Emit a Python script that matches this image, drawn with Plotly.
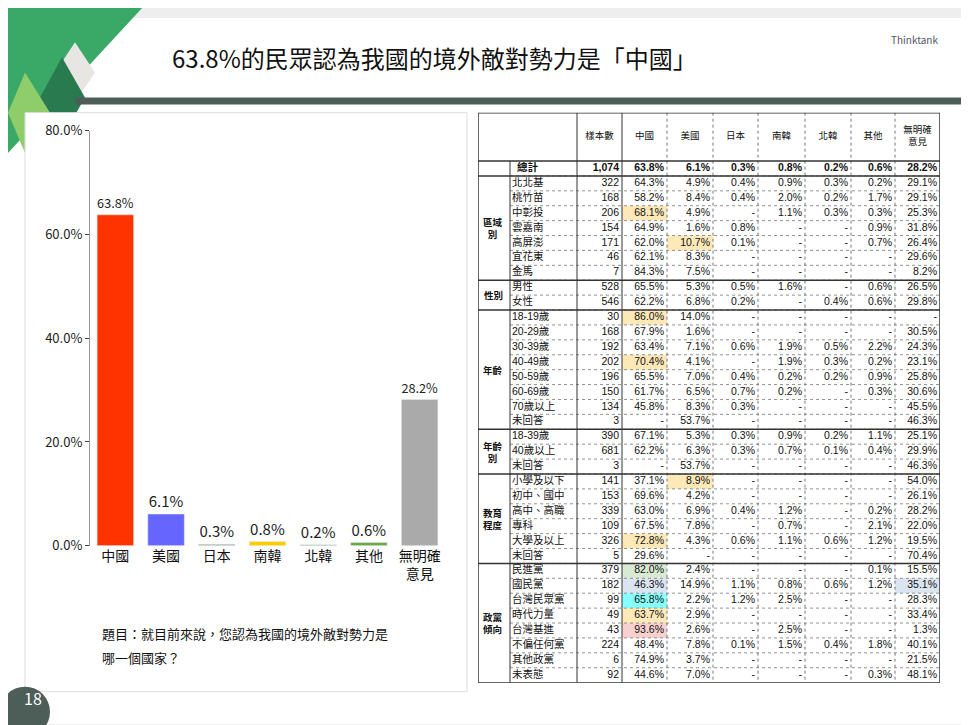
import plotly.graph_objects as go

W, H = 969, 725
categories = ["中國", "美國", "日本", "南韓", "北韓", "其他", "無明確<br>意見"]
values = [63.8, 6.1, 0.3, 0.8, 0.2, 0.6, 28.2]
bar_colors = ["#ff3300", "#6666ff", "#99aa99", "#ffcc00", "#99aa99", "#66aa44", "#aaaaaa"]
y_ticks = [0, 20, 40, 60, 80]
y_tick_labels = ["0.0%", "20.0%", "40.0%", "60.0%", "80.0%"]

header = ["樣本數", "中國", "美國", "日本", "南韓", "北韓", "其他", "無明確<br>意見"]
row_labels = ["總計", "北北基", "桃竹苗", "中彰投", "雲嘉南", "高屏澎", "宜花東", "金馬", "男性", "女性",
              "18-19歲", "20-29歲", "30-39歲", "40-49歲", "50-59歲", "60-69歲", "70歲以上", "未回答",
              "18-39歲", "40歲以上", "未回答",
              "小學及以下", "初中、國中", "高中、高職", "專科", "大學及以上", "未回答",
              "民進黨", "國民黨", "台灣民眾黨", "時代力量", "台灣基進", "不偏任何黨", "其他政黨", "未表態"]
sample_n = ["1,074", "322", "168", "206", "154", "171", "46", "7", "528", "546",
            "30", "168", "192", "202", "196", "150", "134", "3", "390", "681", "3",
            "141", "153", "339", "109", "326", "5", "379", "182", "99", "49", "43", "224", "6", "92"]
col_china = ["63.8%", "64.3%", "58.2%", "68.1%", "64.9%", "62.0%", "62.1%", "84.3%", "65.5%", "62.2%",
             "86.0%", "67.9%", "63.4%", "70.4%", "65.5%", "61.7%", "45.8%", "-", "67.1%", "62.2%", "-",
             "37.1%", "69.6%", "63.0%", "67.5%", "72.8%", "29.6%", "82.0%", "46.3%", "65.8%", "63.7%", "93.6%", "48.4%", "74.9%", "44.6%"]
col_usa = ["6.1%", "4.9%", "8.4%", "4.9%", "1.6%", "10.7%", "8.3%", "7.5%", "5.3%", "6.8%",
           "14.0%", "1.6%", "7.1%", "4.1%", "7.0%", "6.5%", "8.3%", "53.7%", "5.3%", "6.3%", "53.7%",
           "8.9%", "4.2%", "6.9%", "7.8%", "4.3%", "-", "2.4%", "14.9%", "2.2%", "2.9%", "2.6%", "7.8%", "3.7%", "7.0%"]
col_japan = ["0.3%", "0.4%", "0.4%", "-", "0.8%", "0.1%", "-", "-", "0.5%", "0.2%",
             "-", "-", "0.6%", "-", "0.4%", "0.7%", "0.3%", "-", "0.3%", "0.3%", "-",
             "-", "-", "0.4%", "-", "0.6%", "-", "-", "1.1%", "1.2%", "-", "-", "0.1%", "-", "-"]
col_skorea = ["0.8%", "0.9%", "2.0%", "1.1%", "-", "-", "-", "-", "1.6%", "-",
              "-", "-", "1.9%", "1.9%", "0.2%", "0.2%", "-", "-", "0.9%", "0.7%", "-",
              "-", "-", "1.2%", "0.7%", "1.1%", "-", "-", "0.8%", "2.5%", "-", "2.5%", "1.5%", "-", "-"]
col_nkorea = ["0.2%", "0.3%", "0.2%", "0.3%", "-", "-", "-", "-", "-", "0.4%",
              "-", "-", "0.5%", "0.3%", "0.2%", "-", "-", "-", "0.2%", "0.1%", "-",
              "-", "-", "-", "-", "0.6%", "-", "-", "0.6%", "-", "-", "-", "0.4%", "-", "-"]
col_other = ["0.6%", "0.2%", "1.7%", "0.3%", "0.9%", "0.7%", "-", "-", "0.6%", "0.6%",
             "-", "-", "2.2%", "0.2%", "0.9%", "0.3%", "-", "-", "1.1%", "0.4%", "-",
             "-", "-", "0.2%", "2.1%", "1.2%", "-", "0.1%", "1.2%", "-", "-", "-", "1.8%", "-", "0.3%"]
col_none = ["28.2%", "29.1%", "29.1%", "25.3%", "31.8%", "26.4%", "29.6%", "8.2%", "26.5%", "29.8%",
            "-", "30.5%", "24.3%", "23.1%", "25.8%", "30.6%", "45.5%", "46.3%", "25.1%", "29.9%", "46.3%",
            "54.0%", "26.1%", "28.2%", "22.0%", "19.5%", "70.4%", "15.5%", "35.1%", "28.3%", "33.4%", "1.3%", "40.1%", "21.5%", "48.1%"]
groups = [("", 1), ("區域<br>別", 7), ("性別", 2), ("年齡", 8), ("年齡<br>別", 3), ("教育<br>程度", 6), ("政黨<br>傾向", 8)]
highlights = {(3, 1): "#fde9b8", (5, 2): "#fde9b8", (10, 1): "#fde9b8", (13, 1): "#fde9b8",
              (21, 2): "#fde9b8", (25, 1): "#fde9b8", (27, 1): "#d9ead3", (28, 1): "#dbe5f1",
              (28, 7): "#dbe5f1", (29, 1): "#88ffff", (30, 1): "#fde9b8", (31, 1): "#f9d0d0"}
question_lines = ["題目：就目前來說，您認為我國的境外敵對勢力是", "哪一個國家？"]

SY = 0.967
def X(x):
    return (x - 8) / W
def Y(y):
    return 1 - ((y - 21) / SY) / H

col_w = [32, 67, 45, 45, 46, 45, 47, 46, 44, 45]
edges = [0]
for w in col_w:
    edges.append(edges[-1] + w)
HDR, RH = 48, 14.8
nrows = len(row_labels)
T_H = HDR + nrows * RH
TX0, TY0 = 478, 115
TX1, TY1 = TX0 + edges[-1], TY0 + T_H
def ry(i):
    return HDR + (i + 0.5) * RH

fig = go.Figure()
fig.add_trace(go.Bar(x=categories, y=values, marker_color=bar_colors, width=0.72,
                     text=["%.1f%%" % v for v in values], textposition="outside",
                     textfont=dict(size=15, color="#222"), cliponaxis=False, xaxis="x", yaxis="y"))

shapes = [
    dict(type="rect", xref="paper", yref="paper", x0=0, x1=1, y0=0, y1=1, fillcolor="white", line_width=0, layer="below"),
    dict(type="path", xref="paper", yref="paper", path="M %f %f L %f %f L %f %f Z" % (X(8), Y(8), X(145), Y(8), X(8), Y(155)),
         fillcolor="#3aa866", line_width=0, layer="below"),
    dict(type="path", xref="paper", yref="paper",
         path="M %f %f L %f %f L %f %f L %f %f Z" % (X(75), Y(45), X(95), Y(75), X(75), Y(105), X(55), Y(75)),
         fillcolor="#e8e6e2", line_width=0, layer="below"),
    dict(type="path", xref="paper", yref="paper",
         path="M %f %f L %f %f L %f %f L %f %f Z" % (X(62), Y(60), X(85), Y(100), X(62), Y(140), X(40), Y(100)),
         fillcolor="#2a7a4f", line_width=0, layer="below"),
    dict(type="path", xref="paper", yref="paper",
         path="M %f %f L %f %f L %f %f L %f %f Z" % (X(25), Y(75), X(50), Y(115), X(25), Y(155), X(8), Y(115)),
         fillcolor="#8fcc6a", line_width=0, layer="below"),
    dict(type="rect", xref="paper", yref="paper", x0=X(25), x1=X(467), y0=Y(690), y1=Y(115),
         fillcolor="white", line=dict(color="#dddddd", width=1), layer="below"),
    dict(type="rect", xref="paper", yref="paper", x0=X(75), x1=1, y0=Y(107), y1=Y(100),
         fillcolor="#4d5d58", line_width=0, layer="below"),
    dict(type="circle", xref="paper", yref="paper", x0=X(0), x1=X(50), y0=Y(735), y1=Y(685),
         fillcolor="#4d5d58", line_width=0),
]
for (r, c), col in highlights.items():
    shapes.append(dict(type="rect", xref="x2", yref="y2", x0=edges[c + 2], x1=edges[c + 3],
                       y0=HDR + r * RH, y1=HDR + (r + 1) * RH, fillcolor=col, line_width=0, layer="below"))
for i in range(1, nrows):
    shapes.append(dict(type="line", xref="x2", yref="y2", x0=edges[1], x1=edges[-1], y0=HDR + i * RH, y1=HDR + i * RH,
                       line=dict(color="#777", width=0.8, dash="dot")))
for k, e in enumerate(edges):
    outer = k in (0, len(edges) - 1)
    solid = outer or k in (1, 2, 3)
    shapes.append(dict(type="line", xref="x2", yref="y2", x0=e, x1=e, y0=HDR if k == 1 else 0, y1=T_H,
                       line=dict(color="#333" if solid else "#777", width=1.5 if outer else 1,
                                 dash="solid" if solid else "dot")))
shapes.append(dict(type="line", xref="x2", yref="y2", x0=0, x1=edges[-1], y0=0, y1=0, line=dict(color="#333", width=1.5)))
shapes.append(dict(type="line", xref="x2", yref="y2", x0=0, x1=edges[-1], y0=HDR, y1=HDR, line=dict(color="#333", width=1.5)))

annotations = [
    dict(text="63.8%的民眾認為我國的境外敵對勢力是「中國」", x=X(170), y=Y(60), xref="paper", yref="paper",
         xanchor="left", yanchor="middle", showarrow=False, font=dict(size=24, color="#111", family="Noto Sans CJK TC")),
    dict(text="Thinktank", x=X(940), y=Y(33), xref="paper", yref="paper", showarrow=False,
         font=dict(size=10, color="#556")),
    dict(text="18", x=X(22), y=Y(710), xref="paper", yref="paper", showarrow=False,
         font=dict(size=16, color="white")),
]
for j, line in enumerate(question_lines):
    annotations.append(dict(text=line, x=X(100), y=Y(632 + 24 * j), xref="paper", yref="paper", xanchor="left",
                            yanchor="middle", showarrow=False, font=dict(size=13, color="#111", family="Noto Sans CJK TC")))
r0 = 0
for name, n in groups:
    yb = HDR + (r0 + n) * RH
    if name:
        annotations.append(dict(text="<b>%s</b>" % name, x=edges[0] + 15, y=HDR + (r0 + n / 2) * RH, xref="x2", yref="y2",
                                showarrow=False, font=dict(size=9.5, color="#111", family="Noto Sans CJK TC")))
    shapes.append(dict(type="line", xref="x2", yref="y2", x0=edges[0], x1=edges[-1], y0=yb, y1=yb,
                       line=dict(color="#333", width=1.5)))
    r0 += n

ys = [ry(i) for i in range(nrows)]
tfont = dict(size=10.5, color="#111", family="Arial, Noto Sans CJK TC")
fig.add_trace(go.Scatter(x=[(edges[k + 2] + edges[k + 3]) / 2 for k in range(len(header))], y=[HDR / 2] * len(header),
                         mode="text", text=header, textposition="middle center",
                         textfont=dict(size=9.5, color="#111", family="Noto Sans CJK TC"), xaxis="x2", yaxis="y2"))
fig.add_trace(go.Scatter(x=[edges[1] + 2] * (nrows - 1), y=ys[1:], mode="text", text=row_labels[1:],
                         textposition="middle right", textfont=tfont, xaxis="x2", yaxis="y2"))
fig.add_trace(go.Scatter(x=[(edges[0] + edges[2]) / 2], y=ys[:1], mode="text", text=["<b>%s</b>" % row_labels[0]],
                         textposition="middle center", textfont=tfont, xaxis="x2", yaxis="y2"))
for k, col in enumerate([sample_n, col_china, col_usa, col_japan, col_skorea, col_nkorea, col_other, col_none]):
    txt = ["<b>%s</b>" % v if i == 0 else v for i, v in enumerate(col)]
    fig.add_trace(go.Scatter(x=[edges[k + 3] - 3] * nrows, y=ys, mode="text", text=txt, textposition="middle left",
                             textfont=tfont, xaxis="x2", yaxis="y2"))

fig.update_layout(
    width=W, height=H, margin=dict(l=0, r=0, t=0, b=0), paper_bgcolor="#eeeeee", plot_bgcolor="rgba(0,0,0,0)",
    showlegend=False, shapes=shapes, annotations=annotations, font=dict(family="Noto Sans CJK TC"),
    xaxis=dict(domain=[X(90), X(445)], tickfont=dict(size=14, color="#111"), showline=False, ticks=""),
    yaxis=dict(domain=[Y(545), Y(133)], range=[0, 80], tickvals=y_ticks, ticktext=y_tick_labels,
               showgrid=False, showline=True, linecolor="#999", ticks="outside", ticklen=4,
               tickfont=dict(size=13, color="#222"), anchor="x"),
    xaxis2=dict(domain=[X(TX0), X(TX1)], range=[0, edges[-1]], visible=False, anchor="y2"),
    yaxis2=dict(domain=[Y(TY1), Y(TY0)], range=[T_H, 0], visible=False, anchor="x2"),
)
fig.write_html("out.html")
